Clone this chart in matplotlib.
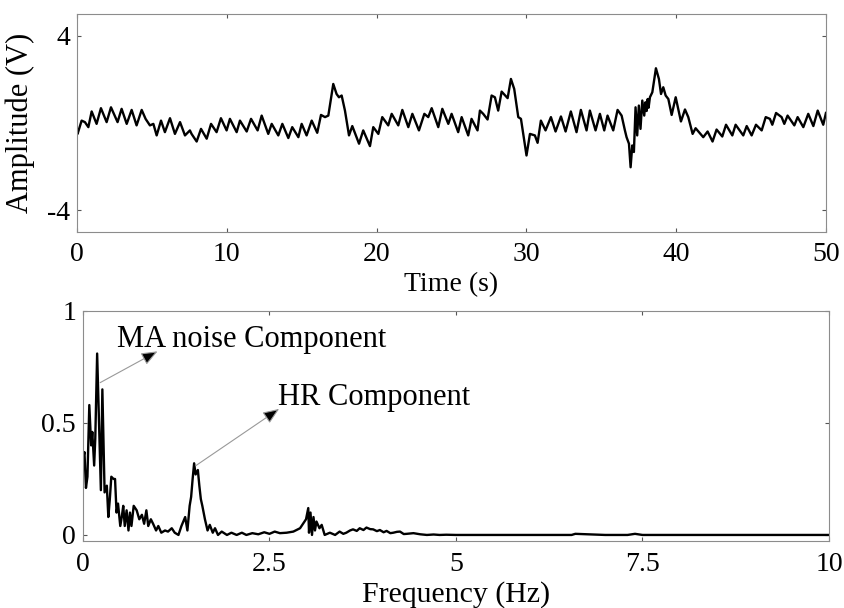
import numpy as np
import matplotlib.pyplot as plt

# ---- time signal (extremes of the waveform) ----
t_sig = [0.00, 0.04, 0.31, 0.53, 0.76, 0.98, 1.31, 1.60, 1.98, 2.27, 2.71, 2.98, 3.32, 3.65,
         3.98, 4.32, 4.58, 4.87, 5.10, 5.32, 5.61, 5.87, 6.21, 6.54, 6.88, 7.21, 7.54, 7.65,
         7.99, 8.28, 8.66, 8.95, 9.32, 9.61, 9.99, 10.21, 10.66, 10.88, 11.33, 11.62, 12.06,
         12.33, 12.77, 13.00, 13.44, 13.71, 14.11, 14.37, 14.78, 15.00, 15.33, 15.67, 16.04,
         16.29, 16.56, 16.78, 17.11, 17.33, 17.49, 17.67, 17.89, 18.16, 18.38, 18.83, 19.11,
         19.56, 19.78, 20.12, 20.38, 20.78, 21.01, 21.45, 21.72, 22.12, 22.39, 22.83, 23.19,
         23.45, 23.68, 24.12, 24.39, 24.79, 25.01, 25.45, 25.68, 26.12, 26.34, 26.74, 26.90,
         27.12, 27.41, 27.68, 27.90, 28.12, 28.35, 28.75, 28.97, 29.19, 29.46, 29.64, 30.01,
         30.24, 30.57, 30.75, 30.97, 31.28, 31.64, 31.95, 32.31, 32.62, 32.97, 33.35, 33.64,
         34.02, 34.24, 34.62, 34.91, 35.20, 35.42, 35.80, 36.09, 36.36, 36.58, 36.69, 36.85,
         36.96, 37.07, 37.18, 37.29, 37.40, 37.51, 37.62, 37.74, 37.87, 37.95, 38.03, 38.10,
         38.16, 38.25, 38.41, 38.65, 38.85, 38.99, 39.14, 39.30, 39.48, 39.70, 39.97, 40.32,
         40.59, 40.81, 41.10, 41.30, 41.81, 42.10, 42.43, 42.70, 43.08, 43.33, 43.75, 43.97,
         44.48, 44.71, 45.04, 45.33, 45.71, 45.98, 46.26, 46.42, 46.67, 47.04, 47.22, 47.44,
         47.89, 48.11, 48.49, 48.82, 49.16, 49.45, 49.82, 50.00]
v_sig = [-0.30, -0.50, 0.11, 0.04, -0.19, 0.53, -0.04, 0.68, 0.04, 0.72, 0.04, 0.65, -0.04, 0.60,
         -0.11, 0.60, 0.19, -0.11, -0.04, -0.57, 0.11, -0.42, 0.22, -0.50, 0.04, -0.57, -0.34, -0.50,
         -0.85, -0.27, -0.72, -0.04, -0.42, 0.22, -0.34, 0.19, -0.42, 0.11, -0.39, 0.19, -0.34,
         0.34, -0.50, -0.04, -0.57, -0.04, -0.69, -0.19, -0.65, -0.04, -0.57, 0.11, -0.45,
         0.37, 0.27, 0.34, 1.79, 1.33, 1.18, 1.26, 0.57, -0.57, -0.14, -0.95, -0.34,
         -1.06, -0.19, -0.50, 0.27, -0.11, 0.42, -0.11, 0.60, -0.19, 0.42, -0.34, 0.42,
         0.27, 0.68, -0.19, 0.65, -0.04, 0.42, -0.42, 0.27, -0.57, 0.19, -0.34, 0.57,
         0.42, 0.16, 1.26, 1.18, 0.57, 1.44, 1.14, 2.02, 1.56, 0.27, 0.19, -1.49,
         -0.50, -0.57, -0.91, 0.11, -0.34, 0.27, -0.39, 0.30, -0.39, 0.53, -0.42, 0.60,
         -0.34, 0.57, -0.34, 0.42, -0.34, 0.34, -0.34, 0.60, 0.34, -0.34, -0.65, -0.95,
         -2.03, -1.03, -1.33, 0.72, -0.57, 0.80, -0.27, 1.03, 0.34, 0.95, 0.55, 1.10,
         0.70, 1.18, 1.41, 2.51, 2.02, 1.33, 1.64, 1.26, 1.10, 0.37, 1.18, 0.07,
         0.62, 0.27, -0.50, -0.24, -0.65, -0.39, -0.85, -0.30, -0.62, -0.08, -0.57, -0.08,
         -0.57, -0.14, -0.57, -0.08, -0.34, 0.27, 0.19, -0.08, 0.46, 0.27, -0.04, 0.34,
         -0.11, 0.27, -0.19, 0.42, -0.14, 0.57, -0.08, 0.46]

# ---- spectrum ----
f_spec = [0.00, 0.02, 0.04, 0.06, 0.085, 0.11, 0.125, 0.15, 0.165, 0.19, 0.24, 0.26, 0.29,
          0.32, 0.34, 0.36, 0.38, 0.41, 0.43, 0.45, 0.47, 0.50, 0.52, 0.54, 0.56, 0.585, 0.61,
          0.63, 0.65, 0.68, 0.72, 0.755, 0.79, 0.82, 0.85, 0.875, 0.91, 0.94, 0.98, 1.01, 1.05,
          1.10, 1.14, 1.19, 1.23, 1.28, 1.32, 1.37, 1.40, 1.43, 1.45, 1.47, 1.49, 1.51, 1.54,
          1.56, 1.58, 1.60, 1.635, 1.67, 1.70, 1.74, 1.77, 1.81, 1.86, 1.93, 1.99, 2.06, 2.13,
          2.19, 2.27, 2.35, 2.43, 2.50, 2.57, 2.64, 2.73, 2.82, 2.91, 2.95, 2.99, 3.02, 3.03,
          3.05, 3.07, 3.09, 3.11, 3.13, 3.17, 3.20, 3.24, 3.31, 3.38, 3.44, 3.49, 3.53, 3.58,
          3.62, 3.67, 3.71, 3.76, 3.80, 3.85, 3.89, 3.94, 3.98, 4.03, 4.07, 4.12, 4.16, 4.21,
          4.25, 4.30, 4.34, 4.43, 4.52, 4.61, 4.70, 4.78, 4.87, 5.00, 5.50, 6.00, 6.55, 6.60,
          7.00, 7.30, 7.40, 7.50, 8.00, 9.00, 10.00]
a_spec = [0.34, 0.37, 0.21, 0.26, 0.58, 0.40, 0.46, 0.31, 0.43, 0.81, 0.20, 0.65, 0.19,
          0.22, 0.08, 0.16, 0.26, 0.25, 0.25, 0.10, 0.14, 0.04, 0.08, 0.13, 0.04, 0.11, 0.02,
          0.10, 0.04, 0.13, 0.11, 0.07, 0.09, 0.05, 0.11, 0.04, 0.07, 0.05, 0.02, 0.04, 0.01,
          0.02, 0.015, 0.03, 0.01, 0.00, 0.04, 0.08, 0.02, 0.13, 0.17, 0.25, 0.32, 0.27, 0.29,
          0.22, 0.16, 0.13, 0.07, 0.02, 0.045, 0.01, 0.03, 0.00, 0.015, 0.00, 0.01, 0.00, 0.01,
          0.00, 0.008, 0.003, 0.012, 0.005, 0.015, 0.008, 0.01, 0.015, 0.03, 0.05, 0.07, 0.12, 0.01,
          0.10, 0.00, 0.08, 0.02, 0.06, 0.03, 0.045, 0.00, 0.01, 0.00, 0.015, 0.005, 0.01, 0.02,
          0.025, 0.018, 0.03, 0.022, 0.033, 0.026, 0.025, 0.017, 0.022, 0.012, 0.018, 0.008, 0.01, 0.014,
          0.015, 0.004, 0.005, 0.008, 0.003, 0.000, 0.002, 0.000, 0.001, 0.000, 0.000, 0.000, 0.000, 0.005,
          0.000, 0.000, 0.005, 0.000, 0.000, 0.000, 0.000]

plt.rcParams['font.family'] = 'Liberation Serif'
plt.rcParams['font.size'] = 20
plt.rcParams['axes.unicode_minus'] = False

fig = plt.figure(figsize=(8.44, 6.08), dpi=100)
ax1 = fig.add_axes([0.0912, 0.6184, 0.8874, 0.3586])
ax2 = fig.add_axes([0.0983, 0.1102, 0.8839, 0.3783])


def style(ax, xpad, ypad):
    for sp in ax.spines.values():
        sp.set_color('#8c8c8c')
        sp.set_linewidth(0.8)
    ax.tick_params(axis='x', direction='in', length=3, width=0.8, color='#555555',
                   top=True, pad=xpad)
    ax.tick_params(axis='y', direction='in', length=3, width=0.8, color='#555555',
                   right=True, pad=ypad)


# Top: signal in time
ax1.plot(t_sig, v_sig, color='black', lw=1.7)
ax1.set_xlim(0, 50)
ax1.set_ylim(-5, 5)
ax1.set_xticks([0, 10, 20, 30, 40, 50])
ax1.set_yticks([-4, 4])
ax1.set_xlabel('Time (s)')
ax1.set_ylabel('Amplitude (V)', fontsize=22)
ax1.xaxis.set_label_coords(0.5, -0.185)
ax1.yaxis.set_label_coords(-0.056, 0.5)
style(ax1, 7, 5)

# Bottom: spectrum
ax2.plot(f_spec, a_spec, color='black', lw=1.7)
ax2.set_xlim(0, 10)
ax2.set_ylim(-0.027, 1.0)
ax2.set_xticks([0, 2.5, 5, 7.5, 10])
ax2.set_xticklabels(['0', '2.5', '5', '7.5', '10'])
ax2.set_yticks([0, 0.5, 1])
ax2.set_yticklabels(['0', '0.5', '1'])
ax2.set_xlabel('Frequency (Hz)', fontsize=21.5)
ax2.xaxis.set_label_coords(0.5, -0.175)
style(ax2, 8, 5)

arrow = dict(arrowstyle='-|>,head_length=0.55,head_width=0.22', fc='black', ec='#999999',
             lw=0.8, mutation_scale=18, shrinkA=0, shrinkB=0)
ax2.annotate('', xy=(1.0, 0.82), xytext=(0.23, 0.68), arrowprops=arrow)
ax2.annotate('', xy=(2.63, 0.563), xytext=(1.515, 0.31), arrowprops=arrow)
ax2.text(0.456, 0.837, 'MA noise Component', ha='left', va='baseline', fontsize=22)
ax2.text(2.62, 0.582, 'HR Component', ha='left', va='baseline', fontsize=22)

fig.savefig('out.png', dpi=100)
